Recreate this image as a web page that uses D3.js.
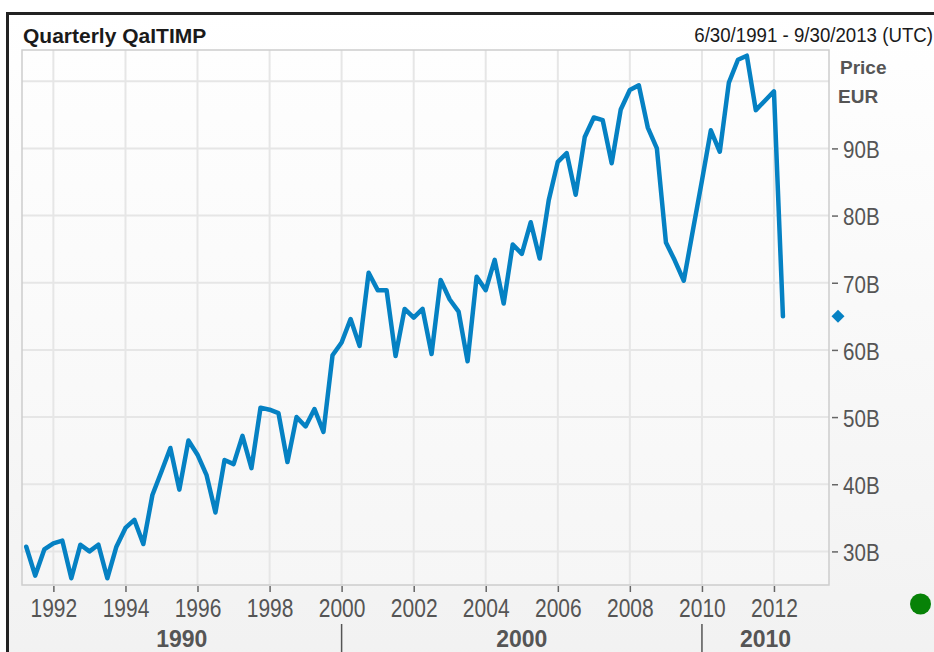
<!DOCTYPE html>
<html>
<head>
<meta charset="utf-8">
<title>Quarterly QaITIMP</title>
<style>
  body { margin: 0; background: #fff; }
  svg { display: block; font-family: "Liberation Sans", Arial, sans-serif; }
</style>
</head>
<body>
<script src="https://cdn.jsdelivr.net/npm/d3@7"></script>
<script>

// quarterly values, billions of EUR, from Q2 1991
var values = [30.7, 26.4, 30.3, 31.2, 31.6, 26.0, 31.0, 30.0, 31.0, 26.0,
              30.7, 33.5, 34.7, 31.1, 38.4, 41.9, 45.4, 39.2, 46.5, 44.4,
              41.4, 35.8, 43.6, 43.0, 47.2, 42.4, 51.4, 51.1, 50.6, 43.3,
              50.0, 48.6, 51.2, 47.8, 59.2, 61.1, 64.6, 60.6, 71.5, 68.9,
              68.9, 59.1, 66.1, 64.8, 66.1, 59.4, 70.4, 67.5, 65.7, 58.3,
              70.9, 68.9, 73.4, 66.9, 75.7, 74.3, 79.0, 73.6, 82.3, 88.0,
              89.3, 83.1, 91.7, 94.6, 94.2, 87.8, 95.8, 98.7, 99.4, 93.1,
              90.0, 76.0, 73.3, 70.3, 77.8, 85.2, 92.7, 89.5, 99.8, 103.2,
              103.8, 95.7, 97.1, 98.5, 65.0];
var firstQuarter = new Date(1991, 3, 1);
var dates = values.map(function(v, i){ return d3.timeMonth.offset(firstQuarter, 3 * i); });

var yTicks = [30, 40, 50, 60, 70, 80, 90];
var yGrid = [30, 40, 50, 60, 70, 80, 90, 100];
var xYears = [1992, 1994, 1996, 1998, 2000, 2002, 2004, 2006, 2008, 2010, 2012];
var decadeLabels = ["1990", "2000", "2010"];
var decadeStarts = [1990, 2000, 2010];

var titleText = "Quarterly QaITIMP";
var rangeText = "6/30/1991 - 9/30/2013 (UTC)";

var w = 934, h = 652;
var pLeft = 22, pRight = 829, pTop = 50, pBottom = 585;

var svg = d3.select("body").append("svg").attr("width", w).attr("height", h);
var defs = svg.append("defs");

var g1 = defs.append("linearGradient").attr("id", "panelBg").attr("x1", 0).attr("y1", 0).attr("x2", 0).attr("y2", 1);
g1.append("stop").attr("offset", "0%").attr("stop-color", "#ffffff");
g1.append("stop").attr("offset", "100%").attr("stop-color", "#f1f1f1");
var g2 = defs.append("linearGradient").attr("id", "plotBg").attr("x1", 0).attr("y1", 0).attr("x2", 0).attr("y2", 1);
g2.append("stop").attr("offset", "0%").attr("stop-color", "#fefefe");
g2.append("stop").attr("offset", "100%").attr("stop-color", "#f6f6f6");

// outer frame
svg.append("rect")
  .attr("x", 7.5).attr("y", 13.5).attr("width", 960).attr("height", 680)
  .attr("fill", "url(#panelBg)").attr("stroke", "#222").attr("stroke-width", 3);

var x = d3.scaleTime()
  .domain([new Date(1991, 1, 17), new Date(2013, 6, 12)])
  .range([pLeft, pRight]);
var y = d3.scaleLinear().domain([25, 104.65]).range([pBottom, pTop]);

// plot area
svg.append("rect")
  .attr("x", pLeft).attr("y", pTop).attr("width", pRight - pLeft).attr("height", pBottom - pTop)
  .attr("fill", "url(#plotBg)");

svg.append("g").selectAll("line")
  .data(yGrid).enter().append("line")
  .attr("x1", pLeft).attr("x2", pRight)
  .attr("y1", function(d){ return y(d); }).attr("y2", function(d){ return y(d); })
  .attr("stroke", "#e6e6e6").attr("stroke-width", 2);

svg.append("g").selectAll("line")
  .data(xYears).enter().append("line")
  .attr("x1", function(d){ return x(new Date(d, 0, 1)); })
  .attr("x2", function(d){ return x(new Date(d, 0, 1)); })
  .attr("y1", pTop).attr("y2", pBottom)
  .attr("stroke", "#e6e6e6").attr("stroke-width", 2);

svg.append("rect")
  .attr("x", pLeft).attr("y", pTop).attr("width", pRight - pLeft).attr("height", pBottom - pTop)
  .attr("fill", "none").attr("stroke", "#cdcdcd").attr("stroke-width", 1.5);

// right axis
var yAxis = d3.axisRight(y).tickValues(yTicks).tickSize(8).tickPadding(7.5)
  .tickFormat(function(d){ return d + "B"; });
var ya = svg.append("g").attr("transform", "translate(" + (pRight + 1) + ",0)").call(yAxis);
ya.select(".domain").remove();
ya.selectAll(".tick line").attr("stroke", "#666").attr("stroke-width", 1.5).attr("x1", 2);
ya.selectAll(".tick text")
  .attr("fill", "#555").attr("font-size", "24.5px").attr("dy", "0.38em")
  .attr("transform", "scale(0.84,1)");

// bottom axis
var xAxis = d3.axisBottom(x)
  .tickValues(xYears.map(function(d){ return new Date(d, 0, 1); }))
  .tickSize(6).tickPadding(7.5).tickFormat(d3.timeFormat("%Y"));
var xa = svg.append("g").attr("transform", "translate(0," + (pBottom + 1) + ")").call(xAxis);
xa.select(".domain").remove();
xa.selectAll(".tick line").attr("stroke", "#666").attr("stroke-width", 1.5);
xa.selectAll(".tick text")
  .attr("fill", "#555").attr("font-size", "25px")
  .attr("transform", "scale(0.84,1)");

// decade row
var d0 = x.domain()[0], d1 = x.domain()[1];
decadeStarts.forEach(function(yr, i){
  var a = new Date(yr, 0, 1), b = new Date(yr + 10, 0, 1);
  var xa0 = x(a < d0 ? d0 : a), xb0 = x(b > d1 ? d1 : b);
  svg.append("text")
    .attr("x", (xa0 + xb0) / 2).attr("y", 646.5)
    .attr("text-anchor", "middle")
    .attr("font-size", "23px").attr("font-weight", "bold").attr("fill", "#555")
    .text(decadeLabels[i]);
  if (a > d0) {
    svg.append("line")
      .attr("x1", x(a)).attr("x2", x(a)).attr("y1", 624).attr("y2", h)
      .attr("stroke", "#555").attr("stroke-width", 1.5);
  }
});

// the series
var line = d3.line()
  .x(function(d, i){ return x(dates[i]); })
  .y(function(d){ return y(d); });

svg.append("path")
  .datum(values)
  .attr("d", line)
  .attr("fill", "none")
  .attr("stroke", "#0581c3")
  .attr("stroke-width", 4.5)
  .attr("stroke-linejoin", "round")
  .attr("stroke-linecap", "round");

// last value marker on the axis
svg.append("path")
  .attr("d", d3.symbol(d3.symbolSquare, 84)())
  .attr("transform", "translate(" + (pRight + 9) + "," + y(values[values.length - 1]) + ") rotate(45)")
  .attr("fill", "#0581c3");

// titles
svg.append("text")
  .attr("x", 23).attr("y", 42.5)
  .attr("font-size", "21px").attr("font-weight", "bold").attr("fill", "#1a1a1a")
  .text(titleText);

svg.append("text")
  .attr("transform", "translate(933,41.5) scale(0.89,1)")
  .attr("text-anchor", "end")
  .attr("font-size", "21px").attr("fill", "#1a1a1a")
  .text(rangeText);

svg.append("text")
  .attr("x", 840).attr("y", 74)
  .attr("font-size", "19px").attr("font-weight", "bold").attr("fill", "#555")
  .text("Price");
svg.append("text")
  .attr("x", 838).attr("y", 102.7)
  .attr("font-size", "19px").attr("font-weight", "bold").attr("fill", "#555")
  .text("EUR");

// status dot
svg.append("circle")
  .attr("cx", 920.5).attr("cy", 604).attr("r", 10.5)
  .attr("fill", "#078207");

</script>
</body>
</html>
